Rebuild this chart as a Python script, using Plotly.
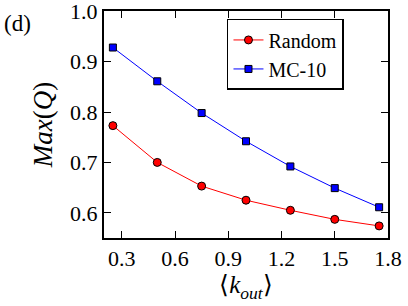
import plotly.graph_objects as go

k_out = [0.25, 0.5, 0.75, 1.0, 1.25, 1.5, 1.75]
random_q = [0.773, 0.700, 0.653, 0.625, 0.605, 0.587, 0.574]
mc10_q = [0.928, 0.861, 0.798, 0.742, 0.692, 0.649, 0.611]
x_ticks = [0.3, 0.6, 0.9, 1.2, 1.5, 1.8]
x_tick_text = ["0.3", "0.6", "0.9", "1.2", "1.5", "1.8"]
y_ticks = [0.6, 0.7, 0.8, 0.9, 1.0]
y_tick_text = ["0.6", "0.7", "0.8", "0.9", "1.0"]
series_names = ["Random", "MC-10"]

FONT = "Liberation Serif"

fig = go.Figure()
fig.add_trace(go.Scatter(
    x=k_out, y=random_q, name=series_names[0], mode="lines+markers",
    line=dict(color="#ff0000", width=1),
    marker=dict(symbol="circle", size=8, color="#ff0000",
                line=dict(color="black", width=1)),
))
fig.add_trace(go.Scatter(
    x=k_out, y=mc10_q, name=series_names[1], mode="lines+markers",
    line=dict(color="#0000ff", width=1),
    marker=dict(symbol="square", size=7, color="#0000ff",
                line=dict(color="black", width=1)),
))

axis_common = dict(
    showline=True, linecolor="black", linewidth=2, mirror="allticks",
    ticks="inside", ticklen=7, tickwidth=1, tickcolor="black",
    showgrid=False, zeroline=False, automargin=False,
    ticklabeloverflow="allow",
    tickfont=dict(family=FONT, size=22, color="black"),
)

fig.update_xaxes(range=[0.2, 1.8], tickvals=x_ticks, ticktext=x_tick_text,
                 title=dict(text="⟨<i>k</i><sub><i>out</i></sub>⟩",
                            font=dict(family=FONT, size=25, color="black"),
                            standoff=4),
                 **axis_common)
fig.update_yaxes(range=[0.55, 1.0005], tickvals=y_ticks, ticktext=y_tick_text,
                 title=dict(text="<i>Max</i>(<i>Q</i>)",
                            font=dict(family=FONT, size=27, color="black"),
                            standoff=10),
                 **axis_common)

fig.add_annotation(text="(d)", xref="paper", yref="paper", x=-0.36, y=1.01,
                   xanchor="left", yanchor="top", showarrow=False,
                   font=dict(family=FONT, size=23, color="black"))

fig.update_layout(
    width=408, height=306,
    margin=dict(l=104, r=20, t=11, b=68),
    paper_bgcolor="white", plot_bgcolor="white",
    showlegend=True,
    legend=dict(x=0.433, y=0.965, xanchor="left", yanchor="top",
                bordercolor="black", borderwidth=1.5, bgcolor="white",
                font=dict(family=FONT, size=20, color="black"),
                tracegroupgap=0, itemwidth=30),
)

fig.write_html("out.html", config={"displayModeBar": False},
               post_script="document.body.style.margin='0';document.body.style.overflow='hidden';")
